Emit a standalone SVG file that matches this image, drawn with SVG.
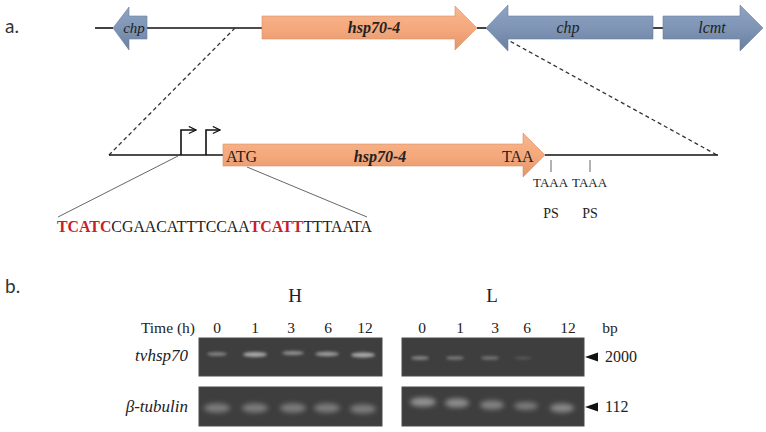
<svg xmlns="http://www.w3.org/2000/svg" width="766" height="432" viewBox="0 0 766 432">
<style>
.ser{font-family:"Liberation Serif","Times New Roman",serif;fill:#222}
.it{font-style:italic}
.bi{font-style:italic;font-weight:bold}
.lab{font-family:Lato,"Open Sans","Liberation Sans",sans-serif;font-size:19px;fill:#333}
.ln{stroke:#111;stroke-width:1.6;fill:none}
.thin{stroke:#555;stroke-width:0.9;fill:none}
.dash{stroke:#333;stroke-width:1.3;stroke-dasharray:4 3;fill:none}
.blue{fill:url(#gb);stroke:#6a7f9e;stroke-width:0.6}
.orange{fill:url(#go);stroke:#d8906a;stroke-width:0.6}
.gel{fill:#3e3e3e;stroke:#4a4a4a;stroke-width:1}
.band{fill:#bdbdbd;filter:url(#bl)}
.tband{fill:#b0b0b0;filter:url(#bl2)}
.red{fill:#c8202a;font-weight:bold}
</style>
<defs>
<linearGradient id="gb" x1="0" y1="0" x2="0" y2="1">
<stop offset="0" stop-color="#8fa4c2"/><stop offset="0.5" stop-color="#7f95b6"/><stop offset="1" stop-color="#6b7f9f"/>
</linearGradient>
<linearGradient id="go" x1="0" y1="0" x2="0" y2="1">
<stop offset="0" stop-color="#f8b68f"/><stop offset="0.5" stop-color="#f5a97c"/><stop offset="1" stop-color="#e3956a"/>
</linearGradient>
<filter id="bl" x="-50%" y="-100%" width="200%" height="300%"><feGaussianBlur stdDeviation="1.5"/></filter>
<filter id="bl2" x="-50%" y="-100%" width="200%" height="300%"><feGaussianBlur stdDeviation="2.4"/></filter>
<marker id="pa" viewBox="0 0 10 10" refX="9" refY="5" markerWidth="9" markerHeight="9" orient="auto" markerUnits="userSpaceOnUse"><path d="M1 1 L9 5 L1 9" fill="none" stroke="#111" stroke-width="1.3"/></marker>
</defs>
<rect width="766" height="432" fill="#fff"/>
<text class="lab" x="5" y="33">a.</text>
<text class="lab" x="5" y="293">b.</text>
<g id="connectors">
<line class="ln" x1="95" y1="28" x2="113" y2="28"/>
<line class="ln" x1="147" y1="28" x2="262" y2="28"/>
<line class="ln" x1="477" y1="28" x2="486" y2="28"/>
<line class="ln" x1="653" y1="28" x2="663" y2="28"/>
<line class="dash" x1="235" y1="28" x2="109" y2="155"/>
<line class="dash" x1="486" y1="28" x2="717" y2="155"/>
<line class="ln" x1="109" y1="155" x2="223" y2="155"/>
<line class="ln" x1="545" y1="155" x2="718" y2="155"/>
<polyline class="ln" points="181,155 181,130 196,130" marker-end="url(#pa)"/>
<polyline class="ln" points="206,155 206,130 220,130" marker-end="url(#pa)"/>
<line class="thin" x1="178" y1="156" x2="58" y2="217"/>
<line class="thin" x1="247" y1="167" x2="367" y2="217"/>
<line class="thin" x1="551" y1="160" x2="551" y2="172"/>
<line class="thin" x1="590" y1="160" x2="590" y2="172"/>
</g>
<g id="chp-left">
<polygon class="blue" points="113,28 129,7 129,16 147,16 147,39 129,39 129,50"/>
<text class="ser it" x="134" y="33" font-size="15" text-anchor="middle">chp</text>
</g>
<g id="hsp70-top">
<polygon class="orange" points="262,16 455,16 455,6 477,28 455,50 455,39 262,39"/>
<text class="ser bi" x="374" y="33" font-size="16" text-anchor="middle">hsp70-4</text>
</g>
<g id="chp-right">
<polygon class="blue" points="486,28 508,5 508,16 653,16 653,39 508,39 508,51"/>
<text class="ser it" x="568" y="33" font-size="16" text-anchor="middle">chp</text>
</g>
<g id="lcmt">
<polygon class="blue" points="663,16 740,16 740,5 763,28 740,51 740,39 663,39"/>
<text class="ser it" x="712" y="33" font-size="16" text-anchor="middle">lcmt</text>
</g>
<g id="hsp70-detail">
<polygon class="orange" points="223,144 523,144 523,133 545,155 523,177 523,166 223,166"/>
<text class="ser" x="226" y="162" font-size="16">ATG</text>
<text class="ser bi" x="380" y="162" font-size="16" text-anchor="middle">hsp70-4</text>
<text class="ser" x="502" y="162" font-size="16">TAA</text>
</g>
<g id="polyA">
<text class="ser" x="533" y="187" font-size="13">TAAA</text>
<text class="ser" x="572" y="187" font-size="13">TAAA</text>
<text class="ser" x="551" y="218" font-size="14" text-anchor="middle">PS</text>
<text class="ser" x="590" y="218" font-size="14" text-anchor="middle">PS</text>
</g>
<g id="sequence">
<text class="ser" x="57" y="232" font-size="16" textLength="315" lengthAdjust="spacingAndGlyphs"><tspan class="red">TCATC</tspan>CGAACATTTCCAA<tspan class="red">TCATT</tspan>TTTAATA</text>
</g>
<g id="gel-labels">
<text class="ser" x="295" y="302" font-size="19" text-anchor="middle">H</text>
<text class="ser" x="492" y="302" font-size="19" text-anchor="middle">L</text>
<text class="ser" x="195" y="333" font-size="15.5" text-anchor="end">Time (h)</text>
<g class="ser" font-size="15.5" text-anchor="middle">
<text x="217" y="333">0</text><text x="255" y="333">1</text><text x="291" y="333">3</text><text x="328" y="333">6</text><text x="365" y="333">12</text>
<text x="422" y="333">0</text><text x="460" y="333">1</text><text x="495" y="333">3</text><text x="527" y="333">6</text><text x="568" y="333">12</text>
<text x="610" y="333">bp</text>
</g>
<text class="ser it" x="188" y="361" font-size="17" text-anchor="end">tvhsp70</text>
<text class="ser it" x="188" y="412" font-size="17" text-anchor="end">β-tubulin</text>
</g>
<g id="gel-H-hsp">
<rect class="gel" x="199" y="338" width="183" height="38"/>
<ellipse class="band" cx="217" cy="354" rx="10" ry="1.8" opacity="0.6"/>
<ellipse class="band" cx="255" cy="354.5" rx="12" ry="2.4" opacity="0.85"/>
<ellipse class="band" cx="293" cy="353" rx="11" ry="2" opacity="0.65"/>
<ellipse class="band" cx="327" cy="354" rx="12" ry="2.2" opacity="0.75"/>
<ellipse class="band" cx="363" cy="355" rx="12" ry="2.6" opacity="0.85"/>
</g>
<g id="gel-L-hsp">
<rect class="gel" x="402" y="338" width="182" height="38"/>
<ellipse class="band" cx="420" cy="358" rx="9" ry="1.8" opacity="0.6"/>
<ellipse class="band" cx="455" cy="358" rx="9" ry="1.6" opacity="0.55"/>
<ellipse class="band" cx="490" cy="358" rx="9" ry="1.6" opacity="0.5"/>
<ellipse class="band" cx="523" cy="358" rx="9" ry="1.2" opacity="0.25"/>
</g>
<g id="gel-H-tub">
<rect class="gel" x="199" y="387" width="183" height="39"/>
<ellipse class="tband" cx="217" cy="408" rx="13" ry="4.5" opacity="0.55"/>
<ellipse class="tband" cx="255" cy="408" rx="13" ry="4.5" opacity="0.55"/>
<ellipse class="tband" cx="293" cy="408" rx="13" ry="4.5" opacity="0.55"/>
<ellipse class="tband" cx="327" cy="408" rx="13" ry="4.5" opacity="0.55"/>
<ellipse class="tband" cx="363" cy="409" rx="13" ry="4.5" opacity="0.55"/>
</g>
<g id="gel-L-tub">
<rect class="gel" x="402" y="387" width="182" height="39"/>
<ellipse class="tband" cx="423" cy="402" rx="13" ry="4.5" opacity="0.75"/>
<ellipse class="tband" cx="457" cy="403" rx="12" ry="4.5" opacity="0.7"/>
<ellipse class="tband" cx="492" cy="405" rx="12" ry="4.5" opacity="0.6"/>
<ellipse class="tband" cx="526" cy="406" rx="12" ry="4" opacity="0.55"/>
<ellipse class="tband" cx="562" cy="408" rx="12" ry="4.5" opacity="0.65"/>
</g>
<g id="size-markers">
<polygon points="585,357 598,352.5 598,361.5" fill="#111"/>
<text class="ser" x="605" y="362" font-size="16">2000</text>
<polygon points="585,407 598,402.5 598,411.5" fill="#111"/>
<text class="ser" x="605" y="412" font-size="16">112</text>
</g>
</svg>
